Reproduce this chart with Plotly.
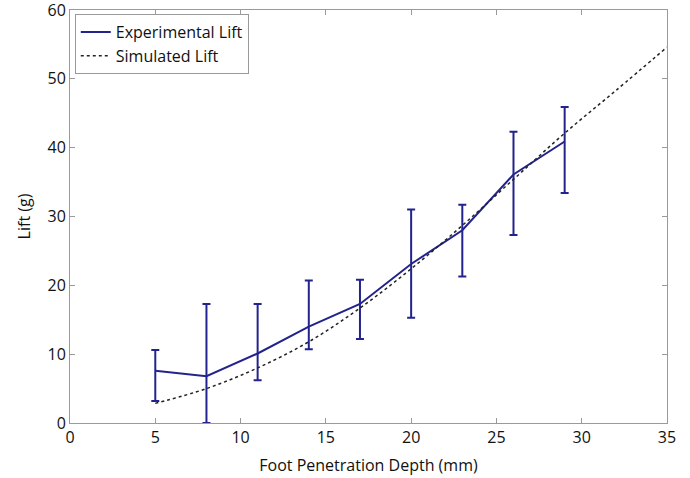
import plotly.graph_objects as go

depth_exp = [5, 8, 11, 14, 17, 20, 23, 26, 29]
lift_exp = [7.6, 6.8, 10.1, 14.0, 17.3, 23.1, 28.0, 36.1, 40.9]
err_upper = [10.6, 17.3, 17.3, 20.7, 20.8, 31.0, 31.7, 42.3, 45.9]
err_lower = [3.2, 0.0, 6.2, 10.7, 12.2, 15.3, 21.3, 27.3, 33.4]

depth_sim = [5, 8, 11, 14, 17, 20, 23, 26, 29, 32, 35]
lift_sim = [2.85, 5.0, 8.0, 11.8, 16.7, 22.4, 28.7, 35.4, 42.1, 48.3, 54.6]

x_ticks = [0, 5, 10, 15, 20, 25, 30, 35]
y_ticks = [0, 10, 20, 30, 40, 50, 60]

navy = "#23238e"
font_family = "Open Sans, Noto Sans, sans-serif"
txt = "#111111"

fig = go.Figure()
fig.add_trace(go.Scatter(
    x=depth_exp, y=lift_exp, mode="lines", name="Experimental Lift",
    line=dict(color=navy, width=2),
    error_y=dict(
        type="data", symmetric=False,
        array=[u - v for u, v in zip(err_upper, lift_exp)],
        arrayminus=[v - l for v, l in zip(lift_exp, err_lower)],
        color=navy, thickness=2, width=4,
    ),
))
fig.add_trace(go.Scatter(
    x=depth_sim, y=lift_sim, mode="lines", name="Simulated Lift",
    line=dict(color="#222222", width=1.5, dash="dot", shape="spline"),
))

axis_common = dict(
    showgrid=False, zeroline=False, showline=True, linecolor="#9a9a9a", linewidth=1,
    mirror="ticks", ticks="inside", ticklen=5, tickcolor="#9a9a9a",
    tickfont=dict(size=16, color=txt, family=font_family),
    ticklabeloverflow="allow", automargin=False,
)
fig.update_xaxes(range=[0, 35], tickvals=x_ticks,
                 title=dict(text="Foot Penetration Depth (mm)", font=dict(size=16, color=txt, family=font_family), standoff=12),
                 **axis_common)
fig.update_yaxes(range=[0, 60], tickvals=y_ticks,
                 title=dict(text="Lift (g)", font=dict(size=16, color=txt, family=font_family), standoff=12),
                 **axis_common)

fig.update_layout(
    width=690, height=478,
    margin=dict(l=70, r=23, t=10, b=55),
    plot_bgcolor="white", paper_bgcolor="white",
    font=dict(family=font_family, size=16, color=txt),
    legend=dict(x=0.008, y=0.99, xanchor="left", yanchor="top",
                bgcolor="white", bordercolor="#9a9a9a", borderwidth=1,
                font=dict(size=16, family=font_family, color=txt), tracegroupgap=0,
                itemwidth=30),
    showlegend=True,
)

fig.write_html("out.html")
